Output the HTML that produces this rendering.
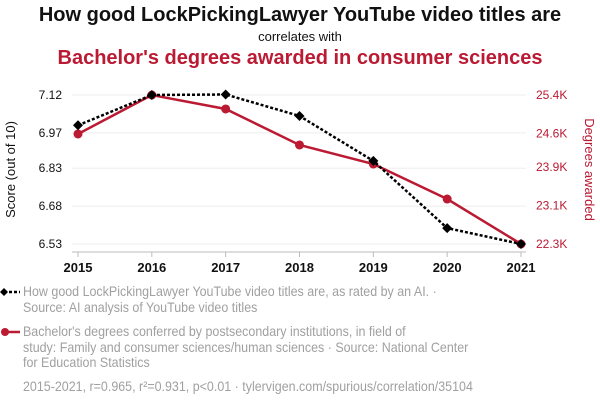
<!DOCTYPE html>
<html><head><meta charset="utf-8"><style>
body{margin:0;width:600px;height:408px;background:#fff;font-family:"Liberation Sans",sans-serif;overflow:hidden;position:relative}
.t{position:absolute;left:0;width:600px;text-align:center}
.leg{position:absolute;left:23px;color:#a0a0a0;font-size:14px;line-height:15.5px;transform:scaleX(0.89);transform-origin:0 0;white-space:nowrap}
</style></head><body>
<div class="t" style="top:4px;font-size:20px;font-weight:bold;color:#111">How good LockPickingLawyer YouTube video titles are</div>
<div class="t" style="top:29px;font-size:13px;color:#111">correlates with</div>
<div class="t" style="top:47px;font-size:20px;font-weight:bold;color:#bb1a33">Bachelor's degrees awarded in consumer sciences</div>
<svg id="c" width="600" height="280" style="position:absolute;left:0;top:0"></svg>
<div class="leg" style="top:284px">How good LockPickingLawyer YouTube video titles are, as rated by an AI. ·<br>Source: AI analysis of YouTube video titles</div>
<div class="leg" style="top:324px">Bachelor's degrees conferred by postsecondary institutions, in field of<br>study: Family and consumer sciences/human sciences · Source: National Center<br>for Education Statistics</div>
<div class="leg" style="top:379px">2015-2021, r=0.965, r²=0.931, p&lt;0.01 · tylervigen.com/spurious/correlation/35104</div>
<svg width="22" height="80" style="position:absolute;left:0;top:282px">
<line x1="4" y1="10" x2="20" y2="10" stroke="#000" stroke-width="2.5" stroke-dasharray="3,2"/><path d="M4 6L8 10L4 14L0 10Z" fill="#000"/>
<line x1="4" y1="50" x2="20" y2="50" stroke="#bb1a33" stroke-width="2.5"/><circle cx="5" cy="50" r="4" fill="#bb1a33"/>
</svg>
<script>
const years=[2015,2016,2017,2018,2019,2020,2021];
const scores=[7.00,7.12,7.122,7.037,6.859,6.593,6.53];
const degrees=[24589,25400,25109,24360,23964,23236,22300];
const leftTicks=[6.53,6.68,6.83,6.97,7.12];
const rightTicks=[22300,23100,23900,24600,25400];
const rightLabels=["22.3K","23.1K","23.9K","24.6K","25.4K"];
const svg=document.getElementById('c');const NS="http://www.w3.org/2000/svg";
const X0=78,X1=521,YT=95,YB=244;
const x=y=>X0+(y-2015)/(2021-2015)*(X1-X0);
const yl=v=>YB-(v-6.53)/(7.12-6.53)*(YB-YT);
const yr=v=>YB-(v-22300)/(25400-22300)*(YB-YT);
function el(t,a,p){const e=document.createElementNS(NS,t);for(const k in a)e.setAttribute(k,a[k]);(p||svg).appendChild(e);return e;}
leftTicks.forEach((v,i)=>{const g=el('line',{x1:72,x2:526,y1:yl(v),y2:yl(v),stroke:'#eee','stroke-width':1});


const t=el('text',{x:62,y:yl(v)+4,'text-anchor':'end','font-size':12,fill:'#111'});t.textContent=v.toFixed(2);

});
rightTicks.forEach((v,i)=>{const t=el('text',{x:536,y:yr(v)+4,'font-size':12,fill:'#bb1a33'});t.textContent=rightLabels[i];

});
const ax=el('line',{x1:72,x2:526,y1:252,y2:252,stroke:'#bbb'});


years.forEach(yv=>{el('line',{x1:x(yv),x2:x(yv),y1:252,y2:257,stroke:'#bbb'});
const t=el('text',{x:x(yv),y:272,'text-anchor':'middle','font-size':13,'font-weight':'bold',fill:'#111'});t.textContent=yv;

});
let t1=el('text',{x:0,y:0,'text-anchor':'middle','font-size':13,fill:'#111',transform:`translate(15,${(YT+YB)/2}) rotate(-90)`});t1.textContent='Score (out of 10)';


let t2=el('text',{x:0,y:0,'text-anchor':'middle','font-size':13,fill:'#bb1a33',transform:`translate(585,${(YT+YB)/2}) rotate(90)`});t2.textContent='Degrees awarded';


const rl=el('polyline',{points:years.map((yv,i)=>x(yv)+','+yr(degrees[i])).join(' '),fill:'none',stroke:'#bb1a33','stroke-width':2.5});


years.forEach((yv,i)=>{const c=el('circle',{cx:x(yv),cy:yr(degrees[i]),r:4.5,fill:'#bb1a33'});

});
const bl=el('polyline',{points:years.map((yv,i)=>x(yv)+','+yl(scores[i])).join(' '),fill:'none',stroke:'#000','stroke-width':2.5,'stroke-dasharray':'3,2'});


years.forEach((yv,i)=>{const cx=x(yv),cy=yl(scores[i]);const d=el('path',{d:`M${cx} ${cy-5}L${cx+5} ${cy}L${cx} ${cy+5}L${cx-5} ${cy}Z`,fill:'#000'});

});
</script>
</body></html>
